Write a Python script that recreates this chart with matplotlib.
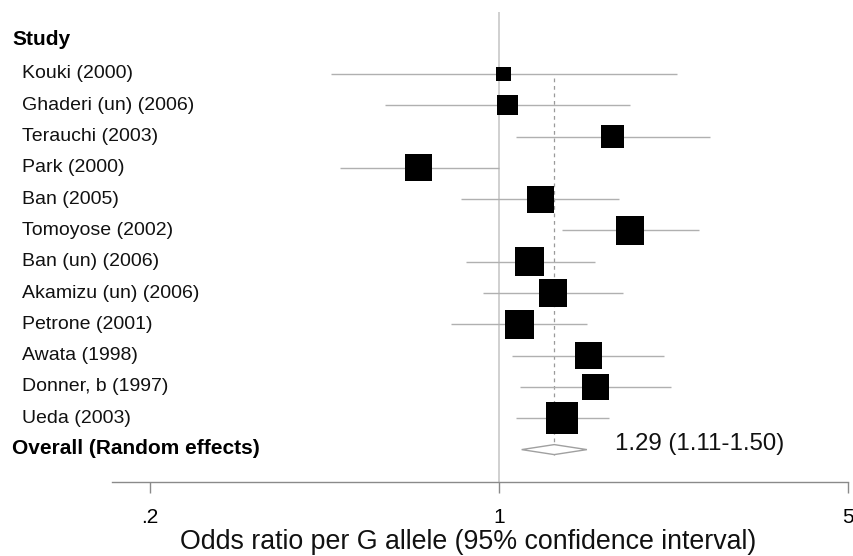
import numpy as np
import matplotlib
matplotlib.use("Agg")
import matplotlib.pyplot as plt
from matplotlib.patches import Polygon

plt.rcParams['font.family'] = ['Liberation Sans', 'DejaVu Sans']

studies = ["Kouki (2000)", "Ghaderi (un) (2006)", "Terauchi (2003)", "Park (2000)",
           "Ban (2005)", "Tomoyose (2002)", "Ban (un) (2006)", "Akamizu (un) (2006)",
           "Petrone (2001)", "Awata (1998)", "Donner, b (1997)", "Ueda (2003)"]
odds_ratio = [1.02, 1.04, 1.69, 0.69, 1.21, 1.83, 1.15, 1.28, 1.10, 1.51, 1.56, 1.34]
ci_low = [0.46, 0.59, 1.08, 0.48, 0.84, 1.34, 0.86, 0.93, 0.80, 1.06, 1.10, 1.08]
ci_high = [2.27, 1.83, 2.64, 1.00, 1.74, 2.51, 1.56, 1.77, 1.50, 2.14, 2.21, 1.66]
weights = [2.6, 4.7, 6.2, 8.5, 8.5, 9.2, 9.8, 9.2, 9.8, 8.5, 8.5, 12.0]

overall_or = 1.29
overall_low = 1.11
overall_high = 1.50
overall_label = "Overall (Random effects)"

xticks = [0.2, 1, 5]
xtick_labels = [".2", "1", "5"]
xlabel = "Odds ratio per G allele (95% confidence interval)"

W, H = 854, 556
fig = plt.figure(figsize=(W / 100, H / 100), dpi=100)

# axes box in pixel terms (left, top, right, bottom)
L, T, R, B = 112, 12, 848, 482
ax = fig.add_axes([L / W, 1 - B / H, (R - L) / W, (B - T) / H])
ax.set_xscale('log')
px_per_dec = (R - 150) / np.log10(5 / 0.2)
xmin = 10 ** (np.log10(0.2) - (150 - L) / px_per_dec)
ax.set_xlim(xmin, 5)

row_px = 31.3
first_px = 74 - row_px
ax.set_ylim((B - first_px) / row_px, (T - first_px) / row_px)

for s in ['top', 'right', 'left']:
    ax.spines[s].set_visible(False)
ax.spines['bottom'].set_color('#8a8a8a')
ax.spines['bottom'].set_linewidth(1.0)
ax.set_yticks([])
ax.set_xticks(xticks)
ax.set_xticklabels(xtick_labels, fontsize=15)
ax.minorticks_off()
ax.tick_params(axis='x', length=8, width=1.0, color='#8a8a8a', pad=11)

fig.text(468 / W, 1 - 542 / H, xlabel, fontsize=19.3, ha='center', va='center',
         color='#111111')

n = len(studies)
ys = np.arange(1, n + 1)
y_overall = n + 1

# null line
ax.axvline(1, color='#c4c4c4', lw=1.1, zorder=1)
# overall estimate reference
ax.plot([overall_or, overall_or], [1.12, y_overall + 0.17], color='#9a9a9a',
        lw=0.9, ls=(0, (3, 3)), zorder=1)

# confidence intervals
ax.hlines(ys, ci_low, ci_high, color='#b0b0b0', lw=1.0, zorder=2)

# study squares sized by weight
side_px = 32 * np.sqrt(np.array(weights) / max(weights))
side_pt = side_px * 72 / 100
ax.scatter(odds_ratio, ys, marker='s', s=side_pt ** 2, color='black',
           edgecolors='none', zorder=3)

# pooled diamond
h = 5 / row_px
diamond = Polygon([(overall_low, y_overall), (overall_or, y_overall - h),
                   (overall_high, y_overall), (overall_or, y_overall + h)],
                  closed=True, facecolor='white', edgecolor='#a0a0a0', lw=1.0, zorder=3)
ax.add_patch(diamond)

ax.text(1.71, y_overall - 0.17, f"{overall_or:.2f} ({overall_low:.2f}-{overall_high:.2f})",
        fontsize=17.3, va='center', ha='left', color='#111111')

# study labels on the left
lab_trans = matplotlib.transforms.blended_transform_factory(fig.transFigure, ax.transData)
ax.text(12 / W, -0.1, "Study", transform=lab_trans, fontsize=15, fontweight='bold',
        va='center', ha='left', clip_on=False)
for y, name in zip(ys, studies):
    ax.text(22 / W, y, name, transform=lab_trans, fontsize=14, va='center',
            ha='left', color='#111111', clip_on=False)
ax.text(12 / W, y_overall - 0.05, overall_label, transform=lab_trans, fontsize=15,
        fontweight='bold', va='center', ha='left', clip_on=False)

fig.savefig("out.png", dpi=100)
